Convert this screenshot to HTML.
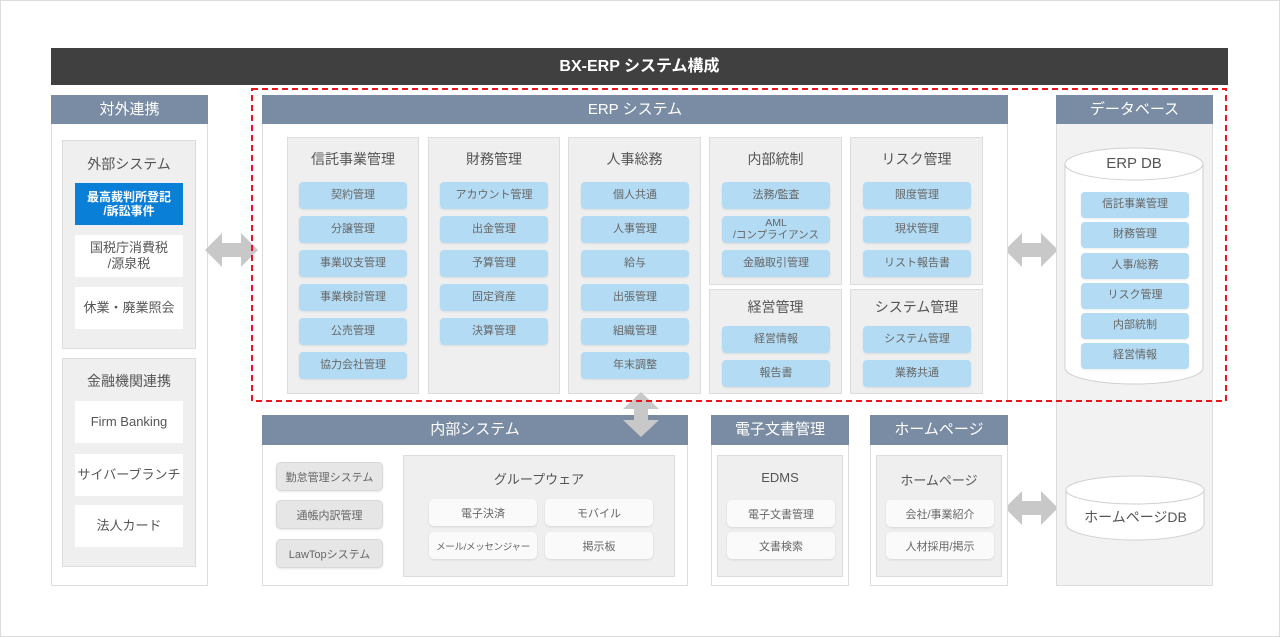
<!DOCTYPE html>
<html><head><meta charset="utf-8">
<style>
*{box-sizing:border-box;margin:0;padding:0}
body{width:1280px;height:637px;background:#fff;position:relative;overflow:hidden;font-family:"Liberation Sans","Noto Sans CJK JP",sans-serif;color:#555}
.a{position:absolute}
.frame{left:0;top:0;width:1280px;height:637px;border:1px solid #ddd}
.title{left:51px;top:48px;width:1177px;height:37px;background:#404040;color:#fff;font-weight:bold;font-size:16px;text-align:center;line-height:37px}
.hd{background:#7a8ca3;color:#fff;font-size:15px;text-align:center;line-height:29px;height:29px}
.pb{background:#fff;border:1px solid #ddd}
.gb{background:#efefef;border:1px solid #ddd}
.gt{font-size:14px;color:#555;text-align:center;width:100%}
.pill{background:#b3dbf3;border-radius:4px;font-size:11px;color:#666;text-align:center;display:flex;align-items:center;justify-content:center;line-height:1.05;box-shadow:0 1px 2px rgba(0,0,0,.08);white-space:nowrap}
.wp{background:#fafafa;border-radius:5px;font-size:11px;color:#666;display:flex;align-items:center;justify-content:center;box-shadow:0 1px 2px rgba(0,0,0,.1);white-space:nowrap}
.gp{background:#e6e6e6;border:1px solid #d8d8d8;border-radius:5px;font-size:11px;color:#666;display:flex;align-items:center;justify-content:center;box-shadow:0 1px 2px rgba(0,0,0,.1);white-space:nowrap}
.wb{background:#fff;font-size:13px;color:#555;display:flex;align-items:center;justify-content:center;text-align:center;line-height:1.2}
</style></head><body>
<div class="a frame"></div>
<div class="a title">BX-ERP システム構成</div>

<!-- left panel -->
<div class="a pb" style="left:51px;top:95px;width:157px;height:491px"></div>
<div class="a hd" style="left:51px;top:95px;width:157px">対外連携</div>
<div class="a gb" style="left:62px;top:140px;width:134px;height:209px"></div>
<div class="a gt" style="left:62px;top:154px;width:134px">外部システム</div>
<div class="a wb" style="left:75px;top:183px;width:108px;height:42px;background:#0a7fd8;color:#fff;font-size:12px;font-weight:bold">最高裁判所登記<br>/訴訟事件</div>
<div class="a wb" style="left:75px;top:235px;width:108px;height:42px">国税庁消費税<br>/源泉税</div>
<div class="a wb" style="left:75px;top:287px;width:108px;height:42px">休業・廃業照会</div>
<div class="a gb" style="left:62px;top:358px;width:134px;height:209px"></div>
<div class="a gt" style="left:62px;top:371px;width:134px">金融機関連携</div>
<div class="a wb" style="left:75px;top:401px;width:108px;height:42px">Firm Banking</div>
<div class="a wb" style="left:75px;top:454px;width:108px;height:42px">サイバーブランチ</div>
<div class="a wb" style="left:75px;top:505px;width:108px;height:42px">法人カード</div>

<!-- arrows -->
<svg class="a" style="left:0;top:0" width="1280" height="637">
<g fill="#c8c8c8">
<polygon points="205,250 222,233 222,243 241,243 241,233 258,250 241,267 241,257 222,257 222,267"/>
<polygon points="1005,250 1022,233 1022,243 1041,243 1041,233 1058,250 1041,267 1041,257 1022,257 1022,267"/>
<polygon points="1005,508 1022,491 1022,501 1041,501 1041,491 1058,508 1041,525 1041,515 1022,515 1022,525"/>
</g>
</svg>

<!-- ERP panel -->
<div class="a pb" style="left:262px;top:95px;width:746px;height:306px;border-bottom:none"></div>
<div class="a hd" style="left:262px;top:95px;width:746px">ERP システム</div>

<div class="a gb" style="left:287px;top:137px;width:132px;height:257px"></div>
<div class="a gt" style="left:287px;top:149px;width:132px">信託事業管理</div>
<div class="a pill" style="left:299px;top:182px;width:108px;height:27px">契約管理</div>
<div class="a pill" style="left:299px;top:216px;width:108px;height:27px">分譲管理</div>
<div class="a pill" style="left:299px;top:250px;width:108px;height:27px">事業収支管理</div>
<div class="a pill" style="left:299px;top:284px;width:108px;height:27px">事業検討管理</div>
<div class="a pill" style="left:299px;top:318px;width:108px;height:27px">公売管理</div>
<div class="a pill" style="left:299px;top:352px;width:108px;height:27px">協力会社管理</div>

<div class="a gb" style="left:428px;top:137px;width:132px;height:257px"></div>
<div class="a gt" style="left:428px;top:149px;width:132px">財務管理</div>
<div class="a pill" style="left:440px;top:182px;width:108px;height:27px">アカウント管理</div>
<div class="a pill" style="left:440px;top:216px;width:108px;height:27px">出金管理</div>
<div class="a pill" style="left:440px;top:250px;width:108px;height:27px">予算管理</div>
<div class="a pill" style="left:440px;top:284px;width:108px;height:27px">固定資産</div>
<div class="a pill" style="left:440px;top:318px;width:108px;height:27px">決算管理</div>

<div class="a gb" style="left:568px;top:137px;width:133px;height:257px"></div>
<div class="a gt" style="left:568px;top:149px;width:133px">人事総務</div>
<div class="a pill" style="left:581px;top:182px;width:108px;height:27px">個人共通</div>
<div class="a pill" style="left:581px;top:216px;width:108px;height:27px">人事管理</div>
<div class="a pill" style="left:581px;top:250px;width:108px;height:27px">給与</div>
<div class="a pill" style="left:581px;top:284px;width:108px;height:27px">出張管理</div>
<div class="a pill" style="left:581px;top:318px;width:108px;height:27px">組織管理</div>
<div class="a pill" style="left:581px;top:352px;width:108px;height:27px">年末調整</div>

<div class="a gb" style="left:709px;top:137px;width:133px;height:148px"></div>
<div class="a gt" style="left:709px;top:149px;width:133px">内部統制</div>
<div class="a pill" style="left:722px;top:182px;width:108px;height:27px">法務/監査</div>
<div class="a pill" style="left:722px;top:216px;width:108px;height:27px;font-size:10.5px">AML<br>/コンプライアンス</div>
<div class="a pill" style="left:722px;top:250px;width:108px;height:27px">金融取引管理</div>

<div class="a gb" style="left:850px;top:137px;width:133px;height:148px"></div>
<div class="a gt" style="left:850px;top:149px;width:133px">リスク管理</div>
<div class="a pill" style="left:863px;top:182px;width:108px;height:27px">限度管理</div>
<div class="a pill" style="left:863px;top:216px;width:108px;height:27px">現状管理</div>
<div class="a pill" style="left:863px;top:250px;width:108px;height:27px">リスト報告書</div>

<div class="a gb" style="left:709px;top:289px;width:133px;height:105px"></div>
<div class="a gt" style="left:709px;top:297px;width:133px">経営管理</div>
<div class="a pill" style="left:722px;top:326px;width:108px;height:27px">経営情報</div>
<div class="a pill" style="left:722px;top:360px;width:108px;height:27px">報告書</div>

<div class="a gb" style="left:850px;top:289px;width:133px;height:105px"></div>
<div class="a gt" style="left:850px;top:297px;width:133px">システム管理</div>
<div class="a pill" style="left:863px;top:326px;width:108px;height:27px">システム管理</div>
<div class="a pill" style="left:863px;top:360px;width:108px;height:27px">業務共通</div>

<!-- Database -->
<div class="a" style="left:1056px;top:95px;width:157px;height:491px;background:#f2f2f2;border:1px solid #ddd"></div>
<div class="a hd" style="left:1056px;top:95px;width:157px">データベース</div>
<svg class="a" style="left:1060px;top:140px" width="150" height="410">
<path d="M5,24 L5,228 A69,16 0 0 0 143,228 L143,24" fill="#fff" stroke="#d0d0d0"/>
<ellipse cx="74" cy="24" rx="69" ry="16" fill="#fff" stroke="#d0d0d0"/>
<path d="M6,350 L6,384 A69,16 0 0 0 144,384 L144,350" fill="#fff" stroke="#d0d0d0"/>
<ellipse cx="75" cy="350" rx="69" ry="14" fill="#fff" stroke="#d0d0d0"/>
</svg>
<div class="a gt" style="left:1065px;top:155px;width:138px;font-size:15px">ERP DB</div>
<div class="a pill" style="left:1081px;top:192px;width:108px;height:26px">信託事業管理</div>
<div class="a pill" style="left:1081px;top:222px;width:108px;height:26px">財務管理</div>
<div class="a pill" style="left:1081px;top:253px;width:108px;height:26px">人事/総務</div>
<div class="a pill" style="left:1081px;top:283px;width:108px;height:26px">リスク管理</div>
<div class="a pill" style="left:1081px;top:313px;width:108px;height:26px">内部統制</div>
<div class="a pill" style="left:1081px;top:343px;width:108px;height:26px">経営情報</div>
<div class="a gt" style="left:1066px;top:507px;width:139px;font-size:14px">ホームページDB</div>

<!-- 内部システム -->
<div class="a pb" style="left:262px;top:415px;width:426px;height:171px"></div>
<div class="a hd" style="left:262px;top:415px;width:426px;height:30px;line-height:30px">内部システム</div>
<div class="a gp" style="left:276px;top:462px;width:107px;height:29px">勤怠管理システム</div>
<div class="a gp" style="left:276px;top:500px;width:107px;height:29px">通帳内訳管理</div>
<div class="a gp" style="left:276px;top:539px;width:107px;height:29px">LawTopシステム</div>
<div class="a gb" style="left:403px;top:455px;width:272px;height:122px"></div>
<div class="a gt" style="left:403px;top:469px;width:272px;font-size:13px">グループウェア</div>
<div class="a wp" style="left:429px;top:499px;width:108px;height:27px">電子決済</div>
<div class="a wp" style="left:545px;top:499px;width:108px;height:27px">モバイル</div>
<div class="a wp" style="left:429px;top:532px;width:108px;height:27px;font-size:9.5px;letter-spacing:-0.3px">メール/メッセンジャー</div>
<div class="a wp" style="left:545px;top:532px;width:108px;height:27px">掲示板</div>

<!-- 電子文書管理 -->
<div class="a pb" style="left:711px;top:415px;width:138px;height:171px"></div>
<div class="a hd" style="left:711px;top:415px;width:138px;height:30px;line-height:30px">電子文書管理</div>
<div class="a gb" style="left:717px;top:455px;width:126px;height:122px"></div>
<div class="a gt" style="left:717px;top:470px;width:126px;font-size:13px">EDMS</div>
<div class="a wp" style="left:727px;top:500px;width:108px;height:27px">電子文書管理</div>
<div class="a wp" style="left:727px;top:532px;width:108px;height:27px">文書検索</div>

<!-- ホームページ -->
<div class="a pb" style="left:870px;top:415px;width:138px;height:171px"></div>
<div class="a hd" style="left:870px;top:415px;width:138px;height:30px;line-height:30px">ホームページ</div>
<div class="a gb" style="left:876px;top:455px;width:126px;height:122px"></div>
<div class="a gt" style="left:876px;top:470px;width:126px;font-size:13px">ホームページ</div>
<div class="a wp" style="left:886px;top:500px;width:108px;height:27px">会社/事業紹介</div>
<div class="a wp" style="left:886px;top:532px;width:108px;height:27px">人材採用/掲示</div>

<!-- vertical arrow + dashed -->
<svg class="a" style="left:0;top:0" width="1280" height="637">
<polygon fill="#c8c8c8" points="641,392 659,409 648,409 648,420 659,420 641,437 623,420 634,420 634,409 623,409"/>
<rect x="252" y="89" width="974" height="312" fill="none" stroke="#e8161b" stroke-width="2" stroke-dasharray="6,4"/>
</svg>
</body></html>
